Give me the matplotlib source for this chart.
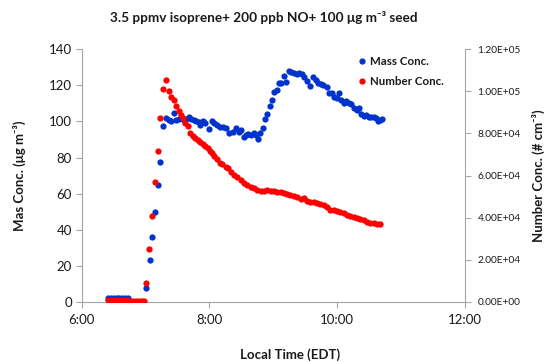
import matplotlib
matplotlib.use("Agg")
import matplotlib.pyplot as plt
from matplotlib.ticker import FuncFormatter, FixedLocator
from matplotlib.lines import Line2D

plt.rcParams['font.family'] = ['Lato', 'DejaVu Sans']

# ---- data (time in minutes after 6:00) ----
mass_time = [25.0, 27.6, 30.2, 32.8, 35.4, 38.0, 40.6, 43.2,
             60.6, 63.8, 66.3, 69.1, 71.6, 73.8, 76.3,
             79.5, 81.7, 83.9, 86.4, 88.6, 91.1, 93.3, 95.8, 98.3, 100.5,
             102.7, 105.2, 107.7, 110.0, 111.5, 114.0, 116.2, 120.0, 122.5,
             124.7, 127.2, 129.7, 132.5, 135.6, 138.7, 141.8, 144.9, 148.0,
             150.0, 152.1, 154.3, 156.5, 159.0, 161.5, 163.6, 165.2, 167.7,
             169.9, 172.0, 174.5, 177.0, 179.2, 180.7, 183.3, 185.5, 187.6,
             190.1, 192.3, 194.8, 197.0, 199.5, 202.0, 204.2, 206.7, 208.8,
             211.3, 214.4, 217.6, 219.7, 221.9, 224.4, 226.9, 230.0, 232.2,
             234.7, 236.9, 239.4, 241.6, 243.7, 246.2, 248.7, 250.9, 253.1,
             255.6, 258.1, 260.3, 262.4, 264.9, 267.1, 269.6, 271.8, 274.3,
             276.5, 278.3, 280.5, 282.0]
mass_conc = [1.8, 2.0, 2.1, 1.9, 1.8, 2.0, 2.1, 1.8,
             7.4, 23.1, 36.1, 49.6, 64.7, 77.7, 97.6,
             101.7, 100.8, 100.2, 104.5, 100.8, 101.3, 102.1, 100.8, 101.3, 102.6,
             101.3, 100.8, 100.2, 99.9, 98.0, 100.4, 98.9, 95.6, 100.2,
             99.3, 98.0, 96.7, 96.7, 96.2, 93.4, 94.3, 96.2, 94.3,
             95.0, 91.2, 92.5, 93.0, 92.5, 93.4, 92.5, 90.4, 93.8,
             96.2, 101.2, 104.1, 108.6, 111.9, 116.5, 117.4, 121.1, 121.5,
             125.2, 122.1, 128.0, 127.2, 126.7, 126.3, 126.7, 126.1, 124.8,
             122.6, 119.7, 124.5, 123.0, 121.5, 120.8, 120.2, 119.3, 116.0,
             115.6, 113.7, 112.8, 115.6, 111.9, 110.4, 111.5, 110.0, 109.7,
             107.3, 106.3, 107.3, 104.1, 103.0, 103.6, 102.6, 102.6, 102.3,
             101.7, 100.4, 100.8, 101.2]

num_time = [25.0, 27.6, 30.2, 32.8, 35.4, 38.0, 40.6, 43.2, 45.8, 48.4,
            51.0, 53.6, 56.2, 58.8,
            60.6, 63.5, 66.3, 68.8, 71.3, 73.5, 76.0, 79.2,
            81.7, 84.2, 86.4, 88.6, 91.1, 93.3, 95.2, 97.4, 99.6, 102.1,
            104.3, 106.8, 109.0, 111.5, 114.0, 116.2, 118.4, 120.3, 122.5,
            124.7, 127.2, 129.7, 132.2, 135.3, 137.8, 140.0, 143.1, 146.2,
            149.4, 152.5, 155.6, 158.8, 161.8, 165.0, 168.1, 171.2, 174.3,
            177.4, 180.5, 183.6, 186.8, 189.9, 193.0, 196.1, 199.2, 202.3,
            205.5, 208.6, 211.7, 214.8, 218.0, 221.1, 224.2, 227.3, 230.4,
            233.5, 236.7, 239.8, 242.9, 246.0, 249.1, 252.3, 255.4, 258.5,
            261.6, 264.7, 267.8, 271.0, 274.1, 277.2, 280.3]
num_conc = [700, 750, 700, 650, 700, 750, 700, 650, 150, 100,
            100, 120, 100, 100,
            9000, 25000, 40900, 56700, 71800, 87300, 101100, 105400,
            100400, 97500, 95900, 93100, 90700, 88800, 87200, 85100, 83600, 80400,
            78800, 77700, 76900, 76100, 75000, 74100, 72900, 71800, 70500,
            69300, 67700, 66100, 65500, 63900, 63400, 61800, 60300, 59500,
            57900, 56600, 55500, 54700, 53900, 53100, 52800, 52800, 53100,
            52800, 52800, 52300, 52300, 51500, 51200, 50700, 50400, 50000,
            48900, 49100, 48000, 47600, 47200, 46800, 46500, 45900, 44800,
            43600, 43600, 43300, 42800, 42000, 41200, 40700, 40100, 39600,
            39200, 38800, 38100, 37500, 37300, 36900, 36800]

x_ticks = [6, 8, 10, 12]
x_tick_labels = ["6:00", "8:00", "10:00", "12:00"]
left_ticks = [0, 20, 40, 60, 80, 100, 120, 140]
right_ticks = [0, 20000, 40000, 60000, 80000, 100000, 120000]

mass_h = [6 + m / 60 for m in mass_time]
num_h = [6 + m / 60 for m in num_time]

blue = "#0033CC"
red = "#FF0000"
spine_c = "#A6A6A6"
txt_c = "#1a1a1a"

fig = plt.figure(figsize=(5.49, 3.62), dpi=100)
ax = fig.add_axes([81.7 / 549, 0.1666, (465 - 81.7) / 549, 0.697])
ax2 = ax.twinx()

ms = 4.5
ax.plot(mass_h, mass_conc, 'o', color=blue, ms=ms, mec='none', ls='none')
ax2.plot(num_h, num_conc, 'o', color=red, ms=ms, mec='none', ls='none')

ax.set_xlim(6, 12)
ax.set_ylim(0, 140)
ax2.set_ylim(0, 120000)
ax.xaxis.set_major_locator(FixedLocator(x_ticks))
ax.set_xticklabels(x_tick_labels)
ax.set_yticks(left_ticks)
ax2.set_yticks(right_ticks)
ax2.yaxis.set_major_formatter(FuncFormatter(lambda v, p: "%.2E" % v))

for a in (ax, ax2):
    a.spines['top'].set_visible(False)
    for s in ('left', 'right', 'bottom'):
        a.spines[s].set_color(spine_c)
        a.spines[s].set_linewidth(0.8)
    a.tick_params(color=spine_c, length=4, width=0.8)
ax.spines['right'].set_visible(False)
ax2.spines['left'].set_visible(False)
ax2.spines['bottom'].set_visible(False)

ax.tick_params(axis='both', labelsize=9.5, labelcolor=txt_c, pad=3)
ax.tick_params(axis='x', pad=5)
ax2.tick_params(axis='y', labelsize=7.3, labelcolor=txt_c, pad=5)

fig.text(264 / 549, 1 - 18 / 362, "3.5 ppmv isoprene+ 200 ppb NO+ 100 μg m⁻³ seed",
         ha='center', va='center', fontsize=9.8, fontweight='bold', color=txt_c)
fig.text(290 / 549, 1 - 355 / 362, "Local Time (EDT)", ha='center', va='center',
         fontsize=9.5, fontweight='bold', color=txt_c)
fig.text(19 / 549, 1 - 176 / 362, "Mas Conc. (μg m⁻³)", ha='center', va='center',
         rotation=90, fontsize=9.5, fontweight='bold', color=txt_c)
fig.text(538 / 549, 1 - 176 / 362, "Number Conc. (# cm⁻³)", ha='center', va='center',
         rotation=90, fontsize=9.5, fontweight='bold', color=txt_c)

handles = [Line2D([], [], marker='o', ls='none', color=blue, mec='none', ms=ms),
           Line2D([], [], marker='o', ls='none', color=red, mec='none', ms=ms)]
leg = ax2.legend(handles, ["Mass Conc.", "Number Conc."], loc='upper left',
                 bbox_to_anchor=(359 / 549, 1 - 56 / 362), bbox_transform=fig.transFigure,
                 frameon=False, handlelength=0.6, handletextpad=0.35,
                 labelspacing=0.75, borderaxespad=0, borderpad=0,
                 prop={'size': 8.3, 'weight': 'bold'})
for t in leg.get_texts():
    t.set_color(txt_c)

fig.savefig("out.png", dpi=100)
